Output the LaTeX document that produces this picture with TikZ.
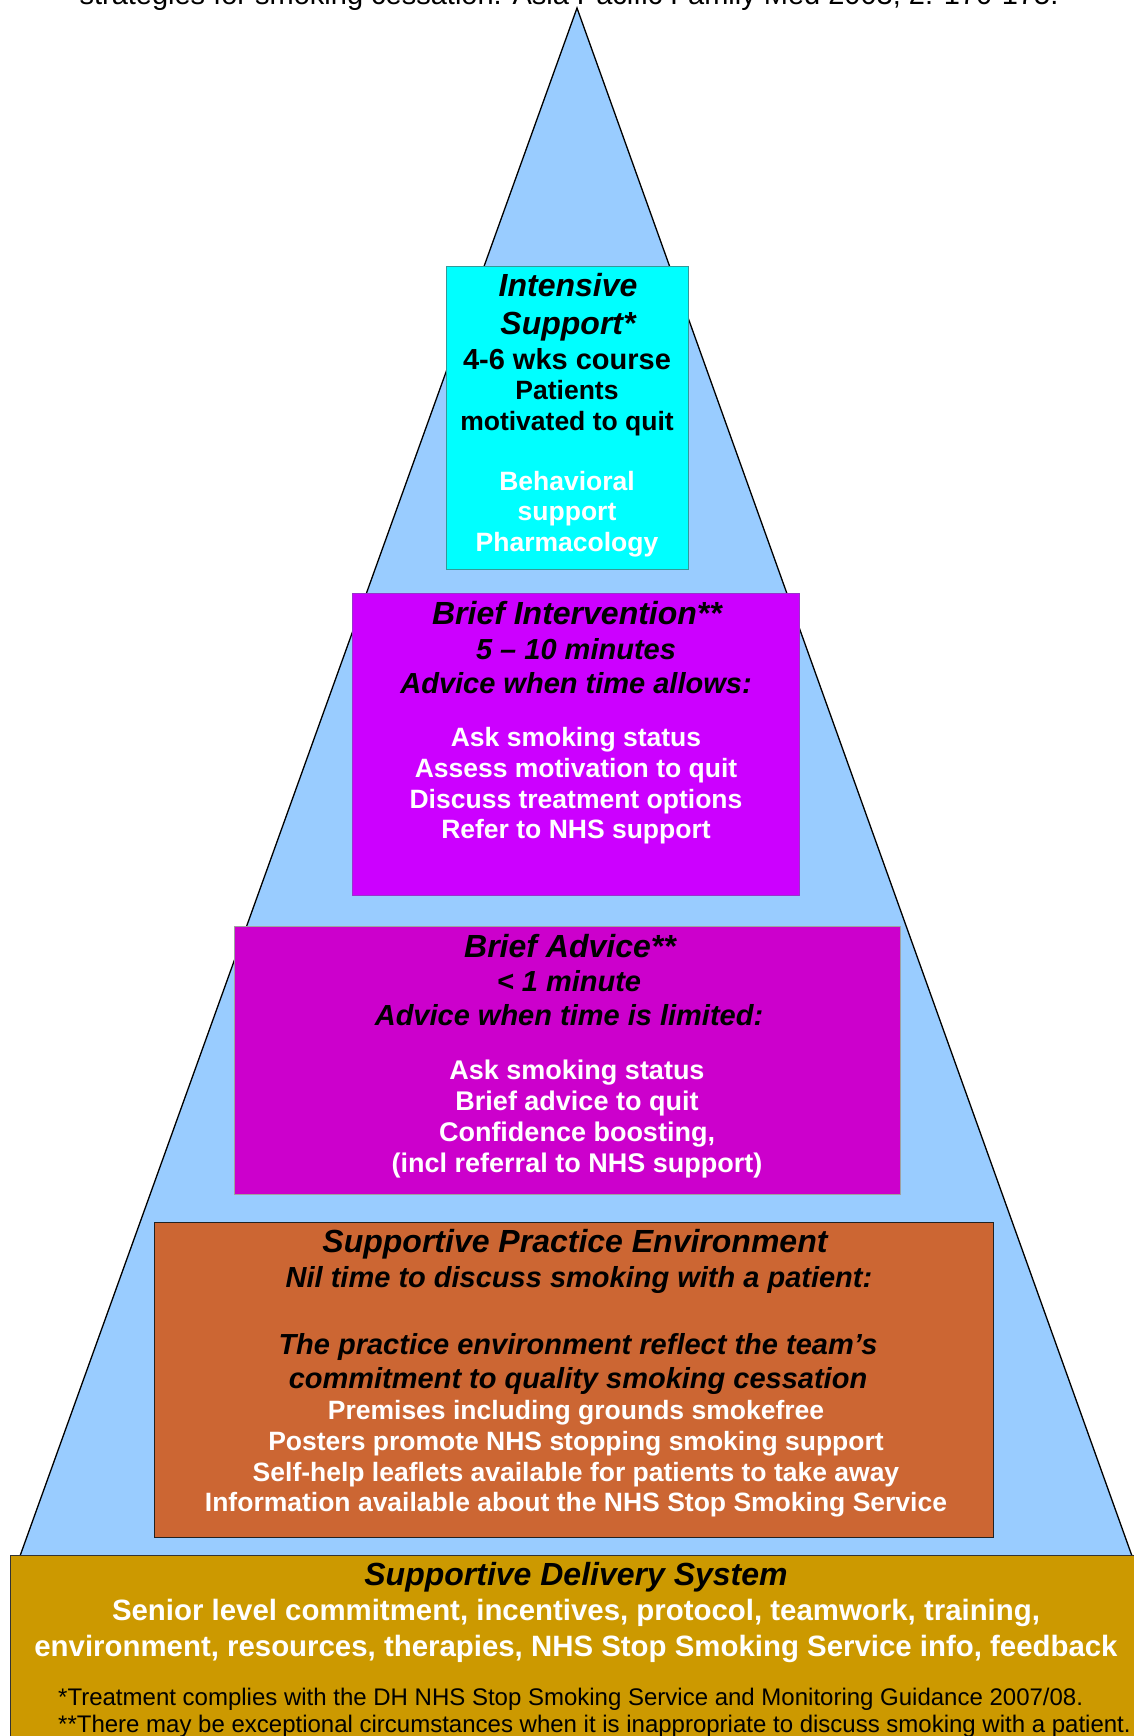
\documentclass[tikz,border=0pt]{standalone}
\usepackage{fontspec}
\setmainfont{Liberation Sans}

\definecolor{pyrblue}{HTML}{99CCFF}
\definecolor{intcyan}{HTML}{00FFFF}
\definecolor{intedge}{HTML}{339999}
\definecolor{biviolet}{HTML}{CC00FF}
\definecolor{biedge}{HTML}{9933CC}
\definecolor{bamagenta}{HTML}{CC00CC}
\definecolor{baedge}{HTML}{A0A0A0}
\definecolor{speorange}{HTML}{CC6633}
\definecolor{speedge}{HTML}{222222}
\definecolor{sdsgold}{HTML}{CC9900}
\definecolor{sdsedge}{HTML}{333333}

\begin{document}
\begin{tikzpicture}[
            x=1pt,
            y=-1pt,
            every node/.style={
                inner sep=0pt,
                align=center
            },
            titletext/.style={font=\fontsize{32}{38}\selectfont\bfseries\itshape},
            subtext/.style={font=\fontsize{29}{33.5}\selectfont\bfseries\itshape},
            bodytext/.style={font=\fontsize{26.5}{30.7}\selectfont\bfseries, text=white},
            notetext/.style={font=\fontsize{24}{26}\selectfont}
        ]

        \useasboundingbox (0,0) rectangle (1133,1736);

        % Cita
        \node[font=\fontsize{29}{33}\selectfont, anchor=base] (cite) at (569,5)
            {strategies for smoking cessation. Asia Pacific Family Med 2003; 2: 170-175.};

        % Pirámide
        \coordinate (apex) at (577,8);
        \coordinate (baseL) at (20,1556);
        \coordinate (baseR) at (1132,1556);
        \filldraw[fill=pyrblue, draw=black, line width=1.3pt] (apex) -- (baseL) -- (baseR) -- cycle;

        % Cajas
        \filldraw[fill=intcyan, draw=intedge, line width=1pt] (446,266) rectangle (688,569);
        \filldraw[fill=biviolet, draw=biedge, line width=1pt] (352,593) rectangle (799,895);
        \filldraw[fill=bamagenta, draw=baedge, line width=1pt] (234,926) rectangle (900,1194);
        \filldraw[fill=speorange, draw=speedge, line width=1pt] (154,1222) rectangle (993,1537);
        \filldraw[fill=sdsgold, draw=sdsedge, line width=1pt] (10,1555) rectangle (1140,1745);

        % Intensive Support
        \node[titletext] (is1) at (568,307) {Intensive\\Support*};
        \node[font=\fontsize{29}{33.5}\selectfont\bfseries] (is2) at (567,359) {4-6 wks course};
        \node[font=\fontsize{26.5}{30.7}\selectfont\bfseries] (is3) at (567,408) {Patients\\motivated to quit};
        \node[bodytext] (is4) at (567,514) {Behavioral\\support\\Pharmacology};

        % Brief Intervention
        \node[titletext] (bi1) at (577,613) {Brief Intervention**};
        \node[subtext] (bi2) at (576,666) {5 – 10 minutes\\Advice when time allows:};
        \node[bodytext] (bi3) at (576,786) {Ask smoking status\\Assess motivation to quit\\
            Discuss treatment options\\Refer to NHS support};

        % Brief Advice
        \node[titletext] (ba1) at (570,946) {Brief Advice**};
        \node[subtext] (ba2) at (569,998) {< 1 minute\\Advice when time is limited:};
        \node[font=\fontsize{27}{30.7}\selectfont\bfseries, text=white] (ba3) at (577,1119)
            {Ask smoking status\\Brief advice to quit\hspace*{16pt}\\
            Confidence boosting,\\(incl referral to NHS support)};

        % Supportive Practice Environment
        \node[titletext] (spe1) at (575,1244) {Supportive Practice Environment};
        \node[subtext] (spe2) at (579,1280) {Nil time to discuss smoking with a patient:};
        \node[subtext] (spe3) at (578,1364) {The practice environment reflect the team’s\\
            commitment to quality smoking cessation};
        \node[bodytext] (spe4) at (576,1459) {Premises including grounds smokefree\\
            Posters promote NHS stopping smoking support\\
            Self-help leaflets available for patients to take away\\
            Information available about the NHS Stop Smoking Service};

        % Supportive Delivery System
        \node[titletext] (sds1) at (576,1577) {Supportive Delivery System};
        \node[font=\fontsize{29.4}{35.5}\selectfont\bfseries, text=white] (sds2) at (576,1631)
            {Senior level commitment, incentives, protocol, teamwork, training,\\
            environment, resources, therapies, NHS Stop Smoking Service info, feedback};
        \node[notetext, anchor=base west] (note1) at (58,1705)
            {*Treatment complies with the DH NHS Stop Smoking Service and Monitoring Guidance 2007/08.};
        \node[notetext, anchor=base west] (note2) at (58,1732)
            {**There may be exceptional circumstances when it is inappropriate to discuss smoking with a patient.};

        \end{tikzpicture}
\end{document}
